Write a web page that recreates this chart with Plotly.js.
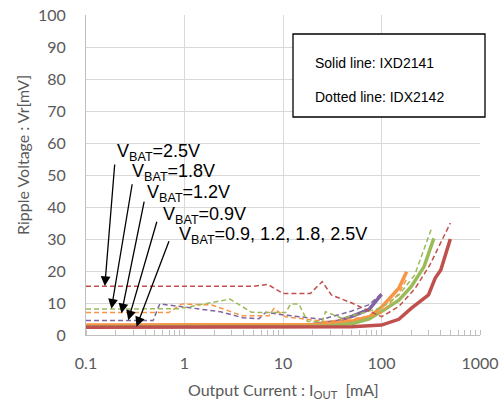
<!DOCTYPE html>
<html>
<head>
<meta charset="utf-8">
<script src="https://cdn.plot.ly/plotly-3.0.1.min.js"></script>
<style>html,body{margin:0;padding:0;background:#fff;}#chart{width:504px;height:403px;}</style>
</head>
<body>
<div id="chart"></div>
<script>
// ---- Data (Output current in mA, ripple voltage in mV) ----
// Solid lines: IXD2141
const solid09X = [0.1, 0.2, 0.5, 1, 2, 5, 10, 20, 35, 50, 75, 100];
const solid09Y = [2.8, 2.8, 2.8, 2.8, 2.8, 2.8, 2.8, 3.3, 4.2, 5.8, 8.0, 12.7];
const solid12X = [0.1, 0.2, 0.5, 1, 2, 5, 10, 20, 30, 50, 75, 100, 150, 180];
const solid12Y = [3.1, 3.1, 3.1, 3.1, 3.1, 3.1, 3.1, 3.3, 3.6, 4.3, 5.7, 8.7, 14.6, 19.8];
const solid18X = [0.1, 0.2, 0.5, 1, 2, 5, 10, 20, 30, 50, 75, 100, 150, 200, 270, 340];
const solid18Y = [2.6, 2.6, 2.6, 2.6, 2.6, 2.6, 2.6, 2.7, 2.9, 3.5, 5.0, 7.3, 10.9, 15.1, 21.3, 30.2];
const solid25X = [0.1, 0.2, 0.5, 1, 2, 5, 10, 20, 50, 100, 150, 200, 300, 350, 400, 500];
const solid25Y = [2.4, 2.4, 2.4, 2.4, 2.4, 2.4, 2.4, 2.4, 2.6, 3.1, 4.9, 8.3, 12.5, 17.7, 20.3, 30];
// Dotted lines: IDX2142
const dot09X = [0.1, 0.2, 0.48, 0.56, 0.87, 1.4, 2.3, 3.9, 5.7, 6.7, 10.6, 25, 50, 75, 100];
const dot09Y = [4.5, 4.5, 4.5, 9.7, 9.0, 8.3, 7.3, 5.4, 5.1, 7.1, 6.2, 4.9, 7.5, 9.5, 13];
const dot12X = [0.1, 0.2, 0.5, 0.69, 0.94, 1.9, 3.85, 7.2, 8.1, 10.6, 27, 50, 75, 100, 150, 180];
const dot12Y = [7, 7, 7, 7, 9.7, 9.4, 6.0, 6.0, 8.3, 5.7, 4.2, 5.0, 5.7, 7.0, 13, 17.5];
const dot18X = [0.1, 0.2, 0.5, 0.87, 2.9, 4.8, 7, 10.6, 12, 14.5, 17.7, 25, 27, 40, 50, 100, 150, 217, 322];
const dot18Y = [8.1, 8.1, 8.1, 8.2, 11.2, 7.1, 7.0, 7.0, 9.7, 9.7, 4.2, 4.2, 7.3, 5.2, 6.0, 8.5, 12.5, 18.7, 33.3];
const dot25X = [0.1, 0.2, 0.5, 1, 2, 5, 7, 10, 15, 19, 25, 31, 50, 70, 100, 150, 220, 310, 500];
const dot25Y = [15.2, 15.2, 15.2, 15.2, 15.2, 15.2, 15.8, 13, 13, 13, 16.7, 12.5, 10, 8, 5.7, 8.9, 14.6, 21.9, 35];

const xTickVals = [0.1, 1, 10, 100, 1000];
const xTickText = ['0.1', '1', '10', '100', '1000'];
const yTickVals = [0, 10, 20, 30, 40, 50, 60, 70, 80, 90, 100];

const cPurple = '#8064A2', cOrange = '#F79646', cGreen = '#9BBB59', cRed = '#C0504D';

function solid(x, y, c) {
  return {x: x, y: y, type: 'scatter', mode: 'lines', line: {color: c, width: 3.5}, showlegend: false, hoverinfo: 'skip'};
}
function dotted(x, y, c) {
  return {x: x, y: y, type: 'scatter', mode: 'lines', line: {color: c, width: 1.5, dash: '5px,3px'}, showlegend: false, hoverinfo: 'skip'};
}

const traces = [
  solid(solid09X, solid09Y, cPurple),
  solid(solid12X, solid12Y, cOrange),
  solid(solid18X, solid18Y, cGreen),
  solid(solid25X, solid25Y, cRed),
  dotted(dot09X, dot09Y, cPurple),
  dotted(dot12X, dot12Y, cOrange),
  dotted(dot18X, dot18Y, cGreen),
  dotted(dot25X, dot25Y, cRed)
];

const labFont = {family: 'Liberation Sans, Arial, sans-serif', size: 18, color: '#000'};
const axFont = {family: 'Lato, sans-serif', size: 16, color: '#595959'};

const L = 86, PW = 394, T = 15, PH = 320;
function px(xpix) { return (xpix - L) / PW; }
function py(ypix) { return (T + PH - ypix) / PH; }

function label(txt, xp, yp) {
  return {xref: 'paper', yref: 'paper', x: xp, y: yp, xanchor: 'left', yanchor: 'middle',
    text: txt, showarrow: false, font: labFont};
}
function arrow(lx, ly, ax, ay) {
  return {xref: 'x', yref: 'y', x: lx, y: ly, ax: ax, ay: ay, text: '', showarrow: true,
    arrowhead: 2, arrowsize: 1.5, arrowwidth: 1.3, arrowcolor: '#000', standoff: 0};
}

const annotations = [
  label('V<sub>BAT</sub>=2.5V', px(115), py(152)),
  label('V<sub>BAT</sub>=1.8V', px(130), py(172)),
  label('V<sub>BAT</sub>=1.2V', px(145), py(193)),
  label('V<sub>BAT</sub>=0.9V', px(161), py(215)),
  label('V<sub>BAT</sub>=0.9, 1.2, 1.8, 2.5V', px(177), py(235)),
  arrow(-0.809, 15.3, 10, -123),
  arrow(-0.742, 8.2, 21, -126),
  arrow(-0.640, 6.8, 23, -113),
  arrow(-0.571, 4.6, 29, -100),
  arrow(-0.487, 2.6, 33, -87),
  {xref: 'paper', yref: 'paper', x: px(313), y: py(63), xanchor: 'left', yanchor: 'middle', showarrow: false,
    text: 'Solid line: IXD2141', font: {family: 'Liberation Sans, Arial, sans-serif', size: 14, color: '#000'}},
  {xref: 'paper', yref: 'paper', x: px(313), y: py(97), xanchor: 'left', yanchor: 'middle', showarrow: false,
    text: 'Dotted line: IDX2142', font: {family: 'Liberation Sans, Arial, sans-serif', size: 14, color: '#000'}},
  {xref: 'paper', yref: 'paper', x: px(283), y: py(390), xanchor: 'center', yanchor: 'middle', showarrow: false,
    text: 'Output Current : I<sub>OUT</sub>  [mA]', font: axFont},
  {xref: 'paper', yref: 'paper', x: px(22), y: py(155), xanchor: 'center', yanchor: 'middle', showarrow: false,
    textangle: -90, text: 'Ripple Voltage : Vr[mV]', font: axFont}
];

function whiteBox(x0, x1, y0, y1) {
  return {type: 'rect', xref: 'paper', yref: 'paper', x0: px(x0), x1: px(x1), y0: py(y1), y1: py(y0),
    fillcolor: '#fff', line: {width: 0}, layer: 'between'};
}

const shapes = [
  whiteBox(113, 385, 130, 182),
  whiteBox(147, 390, 182, 222),
  whiteBox(170, 363, 222, 247),
  {type: 'rect', xref: 'paper', yref: 'paper', x0: px(293), x1: px(485), y0: py(117), y1: py(34),
    fillcolor: '#fff', line: {color: '#000', width: 1.3}, layer: 'above'}
];

const layout = {
  width: 504, height: 403,
  margin: {l: L, r: 504 - L - PW, t: T, b: 403 - T - PH},
  paper_bgcolor: '#fff', plot_bgcolor: '#fff',
  showlegend: false,
  xaxis: {
    type: 'log', range: [-1, 3], tickmode: 'array', tickvals: xTickVals, ticktext: xTickText,
    showgrid: true, gridcolor: '#d9d9d9', gridwidth: 1,
    showline: true, linecolor: '#bfbfbf', linewidth: 1, ticks: '', zeroline: false,
    tickfont: axFont, ticklabelstandoff: 14,
    minor: {dtick: 'D1', ticks: 'inside', ticklen: 5, tickcolor: '#bfbfbf', tickwidth: 1, showgrid: false}
  },
  yaxis: {
    range: [0, 100], tickmode: 'array', tickvals: yTickVals,
    showgrid: true, gridcolor: '#d9d9d9', gridwidth: 1,
    showline: true, linecolor: '#bfbfbf', linewidth: 1, ticks: '', zeroline: false,
    tickfont: axFont, ticklabelstandoff: 16
  },
  shapes: shapes,
  annotations: annotations
};

Plotly.newPlot('chart', traces, layout, {staticPlot: true, displayModeBar: false});
</script>
</body>
</html>
